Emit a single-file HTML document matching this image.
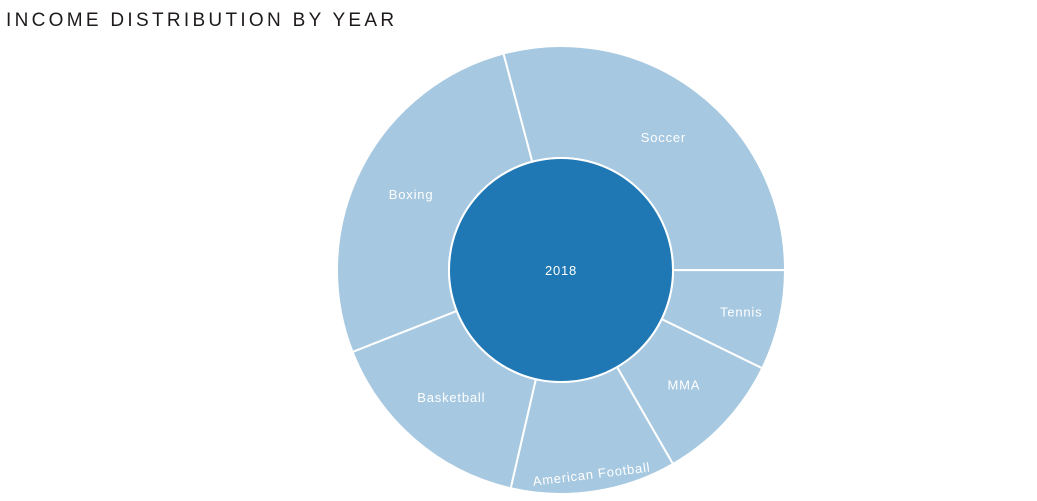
<!DOCTYPE html>
<html><head><meta charset="utf-8"><style>
body{margin:0;background:#fff;width:1037px;height:501px;overflow:hidden;font-family:"Liberation Sans",sans-serif}
#title{position:absolute;left:6px;top:10px;font-size:19px;letter-spacing:3.3px;color:#1e1a1a;margin:0;font-weight:normal}
</style></head><body>
<h1 id="title">INCOME DISTRIBUTION BY YEAR</h1>
<svg id="chart" width="1037" height="501" style="position:absolute;left:0;top:0"></svg>
<script>
const categories=["Soccer","Tennis","MMA","American Football","Basketball","Boxing"];
const values=[105,26,34,43,55.6,96.6];
const centerLabel="2018";
const cx=561,cy=270,r0=112,r1=224,start=-14.9;
const svg=document.getElementById('chart');
const NS='http://www.w3.org/2000/svg';
const total=values.reduce((a,b)=>a+b,0);
function ang(v){return start+v/total*360;}
function pt(a,r){const t=a*Math.PI/180;return [cx+r*Math.sin(t),cy-r*Math.cos(t)];}
let acc=0;
values.forEach((v,i)=>{
  const a0=ang(acc),a1=ang(acc+v);acc+=v;
  const p1=pt(a0,r1),p2=pt(a1,r1),p3=pt(a1,r0),p4=pt(a0,r0);
  const lg=(a1-a0)>180?1:0;
  const p=document.createElementNS(NS,'path');
  p.setAttribute('d',`M${p1}A${r1},${r1} 0 ${lg} 1 ${p2}L${p3}A${r0},${r0} 0 ${lg} 0 ${p4}Z`);
  p.setAttribute('fill','#a6c8e0');p.setAttribute('stroke','#fff');p.setAttribute('stroke-width','2');
  
  
  svg.appendChild(p);
  const mid=(a0+a1)/2;
  const lr=categories[i]==="Tennis"?185:categories[i]==="American Football"?206:168;
  const c=pt(mid,lr);
  const t=document.createElementNS(NS,'text');
  t.setAttribute('x',c[0]);t.setAttribute('y',c[1]+5);
  t.setAttribute('text-anchor','middle');t.setAttribute('fill','#fff');
  t.setAttribute('font-size','13');t.setAttribute('letter-spacing','0.8');
  if(categories[i]==="American Football")t.setAttribute('transform',`rotate(-7 ${c[0]} ${c[1]})`);
  t.textContent=categories[i];
  
  
  svg.appendChild(t);
});
const c=document.createElementNS(NS,'circle');
c.setAttribute('cx',cx);c.setAttribute('cy',cy);c.setAttribute('r',r0);
c.setAttribute('fill','#1f78b4');c.setAttribute('stroke','#fff');c.setAttribute('stroke-width','2');


svg.appendChild(c);
const ct=document.createElementNS(NS,'text');
ct.setAttribute('x',cx);ct.setAttribute('y',cy+5);ct.setAttribute('text-anchor','middle');
ct.setAttribute('fill','#fff');ct.setAttribute('font-size','13');ct.setAttribute('letter-spacing','0.8');
ct.textContent=centerLabel;


svg.appendChild(ct);
</script>
</body></html>
